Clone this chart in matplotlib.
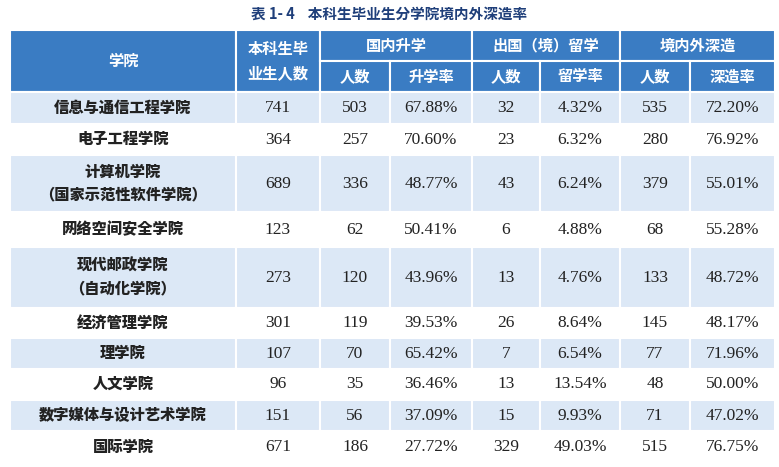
import matplotlib
matplotlib.use("Agg")
import matplotlib.pyplot as plt
from matplotlib.patches import Rectangle
from matplotlib import font_manager as fm

title = "表 1- 4    本科生毕业生分学院境内外深造率"
colleges = ["信息与通信工程学院", "电子工程学院", "计算机学院\n（国家示范性软件学院）", "网络空间安全学院",
            "现代邮政学院\n（自动化学院）", "经济管理学院", "理学院", "人文学院", "数字媒体与设计艺术学院", "国际学院"]
graduates = [741, 364, 689, 123, 273, 301, 107, 96, 151, 671]
domestic_n = [503, 257, 336, 62, 120, 119, 70, 35, 56, 186]
domestic_r = ["67.88%", "70.60%", "48.77%", "50.41%", "43.96%", "39.53%", "65.42%", "36.46%", "37.09%", "27.72%"]
abroad_n = [32, 23, 43, 6, 13, 26, 7, 13, 15, 329]
abroad_r = ["4.32%", "6.32%", "6.24%", "4.88%", "4.76%", "8.64%", "6.54%", "13.54%", "9.93%", "49.03%"]
total_n = [535, 280, 379, 68, 133, 145, 77, 48, 71, 515]
total_r = ["72.20%", "76.92%", "55.01%", "55.28%", "48.72%", "48.17%", "71.96%", "50.00%", "47.02%", "76.75%"]

def find_cjk(bold=False):
    files = fm.findSystemFonts()
    cands = [f for f in files if "CJK" in f or "cjk" in f.lower()]
    pref = [f for f in cands if ("Bold" in f) == bold] or cands
    pref.sort(key=lambda f: (0 if "SC" in f or "Sans" in f else 1, f))
    if pref:
        return fm.FontProperties(fname=pref[0])
    return fm.FontProperties(family=["Noto Sans CJK SC", "Noto Sans CJK JP"])

cjk = find_cjk(False)
cjkb = find_cjk(True)

W, H = 779, 467
fig = plt.figure(figsize=(W/100, H/100), dpi=100)
ax = fig.add_axes([0, 0, 1, 1])
ax.set_xlim(0, W); ax.set_ylim(H, 0); ax.axis("off")

cx = [10, 236, 320, 390, 472, 540, 620, 690, 775]
ry = [92, 124, 155, 212, 247, 308, 338, 369, 400, 431, 463]
hy = [30, 61, 92]
blue = "#3a7cc3"; light = "#dce8f6"; edge = "white"
serif = "Liberation Serif"

def txt(x, y, s, color, fp=None, fam=None, fs=11):
    kw = dict(ha="center", va="center", color=color, linespacing=1.6)
    if fp is not None:
        p = fp.copy(); p.set_size(fs)
        ax.text(x, y, s, fontproperties=p, **kw)
    else:
        ax.text(x, y, s, family=fam, fontsize=fs, **kw)

txt(W/2, 14, title, "#1f3f7a", fp=cjkb, fs=10.5)

def cell(x0, x1, y0, y1, fc, s, color, fp=None, fam=None, fs=11):
    ax.add_patch(Rectangle((x0, y0), x1-x0, y1-y0, fc=fc, ec=edge, lw=1.5))
    txt((x0+x1)/2, (y0+y1)/2, s, color, fp=fp, fam=fam, fs=fs)

fs_h = 11
cell(cx[0], cx[1], hy[0], hy[2], blue, "学院", "white", fp=cjkb, fs=fs_h)
cell(cx[1], cx[2], hy[0], hy[2], blue, "本科生毕\n业生人数", "white", fp=cjkb, fs=fs_h)
for i, g in enumerate(["国内升学", "出国（境）留学", "境内外深造"]):
    cell(cx[2+2*i], cx[4+2*i], hy[0], hy[1], blue, g, "white", fp=cjkb, fs=fs_h)
    cell(cx[2+2*i], cx[3+2*i], hy[1], hy[2], blue, "人数", "white", fp=cjkb, fs=fs_h)
    cell(cx[3+2*i], cx[4+2*i], hy[1], hy[2], blue, ["升学率", "留学率", "深造率"][i], "white", fp=cjkb, fs=fs_h)

for r in range(len(colleges)):
    fc = light if r % 2 == 0 else "white"
    y0, y1 = ry[r], ry[r+1]
    cell(cx[0], cx[1], y0, y1, fc, colleges[r], "#222222", fp=cjk, fs=11)
    vals = [graduates[r], domestic_n[r], domestic_r[r], abroad_n[r], abroad_r[r], total_n[r], total_r[r]]
    for j, v in enumerate(vals):
        cell(cx[1+j], cx[2+j], y0, y1, fc, str(v), "#222222", fam=serif, fs=12.5)

fig.savefig("out.png", dpi=100)
